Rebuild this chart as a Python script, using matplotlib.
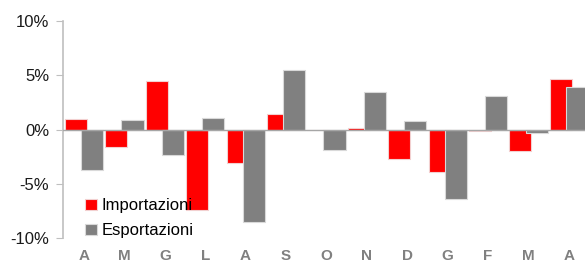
import matplotlib.pyplot as plt
import numpy as np

months = ["A", "M", "G", "L", "A", "S", "O", "N", "D", "G", "F", "M", "A"]
importazioni = [1.0, -1.6, 4.45, -7.4, -3.1, 1.4, -0.05, 0.1, -2.7, -3.9, -0.15, -1.95, 4.65]
esportazioni = [-3.7, 0.85, -2.3, 1.05, -8.5, 5.5, -1.9, 3.5, 0.77, -6.4, 3.1, -0.3, 3.9]

plt.rcParams["font.family"] = ["Liberation Sans Narrow", "Liberation Sans", "DejaVu Sans"]

fig = plt.figure(figsize=(5.85, 2.66), dpi=100)
ax = fig.add_axes([0.1077, 0.105, 0.8923, 0.816])

x = np.arange(len(months))
w = 0.545
off = 0.2
ax.bar(x - off, importazioni, w, color="#ff0000", edgecolor="#f2d0d0", linewidth=0.8,
       label="Importazioni", zorder=2)
ax.bar(x + off, esportazioni, w, color="#808080", edgecolor="#d9d9d9", linewidth=0.8,
       label="Esportazioni", zorder=3)

ax.axhline(0, color="#a6a6a6", linewidth=1.0, zorder=4)

ax.set_xlim(-0.52, 12.4)
ax.set_ylim(-10, 10)
ax.set_yticks([-10, -5, 0, 5, 10])
ax.set_yticklabels(["-10%", "-5%", "0%", "5%", "10%"], fontsize=12, color="#1a1a1a")
ax.set_xticks(x)
ax.set_xticklabels(months, fontsize=11, fontweight="bold", color="#808080",
                   family=["Liberation Sans", "DejaVu Sans"])
ax.tick_params(axis="x", length=0, pad=8)
ax.tick_params(axis="y", length=5, color="#bfbfbf", pad=5)

for s in ["top", "right", "bottom"]:
    ax.spines[s].set_visible(False)
ax.spines["left"].set_color("#bfbfbf")
ax.spines["left"].set_linewidth(1.2)

ax.legend(loc="lower left", bbox_to_anchor=(0.02, -0.055), frameon=False, fontsize=12,
          handlelength=0.7, handleheight=0.7, handletextpad=0.3, labelspacing=0.6,
          borderaxespad=0.3)

fig.savefig("out.png", dpi=100)
